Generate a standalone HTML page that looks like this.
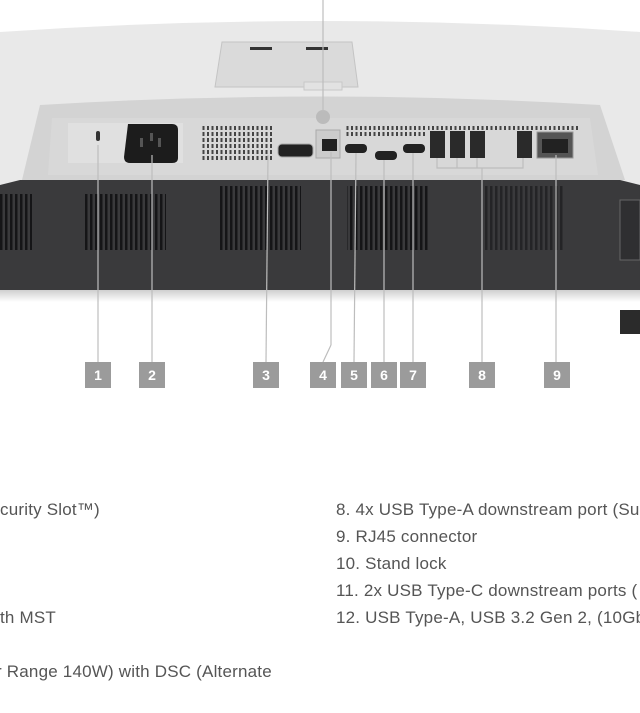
<!DOCTYPE html>
<html><head><meta charset="utf-8"><style>
html,body{margin:0;padding:0;background:#fff;}
body{width:640px;height:713px;overflow:hidden;position:relative;font-family:"Liberation Sans",sans-serif;}
.t{position:absolute;font-size:17px;color:#555;white-space:nowrap;line-height:20px;letter-spacing:0.2px;}
</style></head><body>
<svg width="640" height="713" viewBox="0 0 640 713" style="position:absolute;left:0;top:0">
<defs>
<pattern id="vd" width="5" height="10" patternUnits="userSpaceOnUse"><rect width="2.5" height="10" fill="#151517"/></pattern>
<pattern id="vl" width="4.5" height="6" patternUnits="userSpaceOnUse"><rect width="2" height="4" fill="#444"/></pattern>
<linearGradient id="bot" x1="0" y1="0" x2="0" y2="1"><stop offset="0" stop-color="#cfcfcf"/><stop offset="1" stop-color="#fff"/></linearGradient>
</defs>
<path d="M0,32 Q320,10 640,32 L640,185 L0,185 Z" fill="#e9e9e9"/>
<path d="M222,42 L352,42 L358,87 L215,87 Z" fill="#dadada" stroke="#c4c4c4"/>
<rect x="250" y="47" width="22" height="3" fill="#333"/><rect x="306" y="47" width="22" height="3" fill="#333"/>
<rect x="304" y="82" width="38" height="8" fill="#e2e2e2" stroke="#c8c8c8"/>
<path d="M40,105 Q320,88 600,105 L625,180 L22,180 Z" fill="#d3d3d3"/>
<path d="M52,118 L590,118 L598,175 L48,175 Z" fill="#d8d8d8"/>
<rect x="68" y="123" width="115" height="40" fill="#e0e0e0"/>
<rect x="96" y="131" width="4" height="10" rx="2" fill="#333"/>
<path d="M128,124 L172,124 Q178,124 178,130 L178,158 Q178,163 172,163 L130,163 Q124,163 124,157 Z" fill="#1c1c1c"/>
<rect x="140" y="138" width="3" height="9" fill="#555"/><rect x="158" y="138" width="3" height="9" fill="#555"/><rect x="150" y="133" width="3" height="8" fill="#555"/>
<rect x="200" y="124" width="72" height="38" fill="url(#vl)"/>
<rect x="345" y="124" width="80" height="14" fill="url(#vl)"/>
<rect x="428" y="124" width="150" height="6" fill="url(#vl)"/>
<circle cx="323" cy="117" r="7" fill="#bbb"/>
<rect x="278" y="144" width="35" height="13" rx="4" fill="#222" stroke="#aaa"/>
<rect x="316" y="130" width="24" height="28" fill="#ccc" stroke="#aaa"/>
<rect x="322" y="139" width="15" height="12" fill="#222"/>
<rect x="345" y="144" width="22" height="9" rx="4" fill="#222"/>
<rect x="375" y="151" width="22" height="9" rx="4" fill="#222"/>
<rect x="403" y="144" width="22" height="9" rx="4" fill="#222"/>
<rect x="430" y="131" width="15" height="27" fill="#2a2a2a"/>
<rect x="450" y="131" width="15" height="27" fill="#2a2a2a"/>
<rect x="470" y="131" width="15" height="27" fill="#2a2a2a"/>
<rect x="517" y="131" width="15" height="27" fill="#2a2a2a"/>
<rect x="537" y="132" width="36" height="26" fill="#555" stroke="#999"/>
<rect x="542" y="139" width="26" height="14" fill="#222"/>
<path d="M0,185 L20,180 L620,180 L640,185 L640,290 L0,290 Z" fill="#3a3a3c"/>
<rect x="0" y="194" width="32" height="56" fill="url(#vd)"/>
<rect x="84" y="194" width="82" height="56" fill="url(#vd)"/>
<rect x="219" y="186" width="82" height="64" fill="url(#vd)"/>
<rect x="347" y="186" width="82" height="64" fill="url(#vd)"/>
<rect x="483" y="186" width="82" height="64" fill="url(#vd)" opacity="0.6"/>
<rect x="620" y="200" width="20" height="60" fill="#2f2f31" stroke="#666"/>
<rect x="0" y="290" width="640" height="12" fill="url(#bot)"/>
<rect x="620" y="310" width="20" height="24" fill="#2b2b2b"/>
<g stroke="#bdbdbd" stroke-width="1.2" fill="none">
<line x1="323" y1="0" x2="323" y2="112"/>
<line x1="98" y1="145" x2="98" y2="362"/>
<line x1="152" y1="155" x2="152" y2="362"/>
<line x1="268" y1="155" x2="266" y2="362" />
<line x1="331" y1="152" x2="331" y2="345"/><line x1="331" y1="345" x2="323" y2="362"/>
<line x1="356" y1="153" x2="354" y2="362"/>
<line x1="384" y1="160" x2="384" y2="362"/>
<line x1="413" y1="153" x2="413" y2="362"/>
<path d="M437,158 L437,168 L523,168 L523,158 M457,158 L457,168 M477,158 L477,168"/>
<line x1="482" y1="168" x2="482" y2="362"/>
<line x1="556" y1="155" x2="556" y2="362"/>
</g>
<g fill="#9b9b9b">
<rect x="85" y="362" width="26" height="26"/><rect x="139" y="362" width="26" height="26"/>
<rect x="253" y="362" width="26" height="26"/><rect x="310" y="362" width="26" height="26"/>
<rect x="341" y="362" width="26" height="26"/><rect x="371" y="362" width="26" height="26"/>
<rect x="400" y="362" width="26" height="26"/><rect x="469" y="362" width="26" height="26"/>
<rect x="544" y="362" width="26" height="26"/>
</g>
<g fill="#fff" font-family="Liberation Sans, sans-serif" font-size="14" text-anchor="middle" font-weight="bold">
<text x="98" y="380">1</text><text x="152" y="380">2</text><text x="266" y="380">3</text>
<text x="323" y="380">4</text><text x="354" y="380">5</text><text x="384" y="380">6</text>
<text x="413" y="380">7</text><text x="482" y="380">8</text><text x="557" y="380">9</text>
</g>
</svg>
<div class="t" style="left:0;top:500px">curity Slot™)</div>
<div class="t" style="left:0;top:608px">th MST</div>
<div class="t" style="left:-4px;top:662px">r Range 140W) with DSC (Alternate</div>
<div class="t" style="left:336px;top:500px">8. 4x USB Type-A downstream port (Su</div>
<div class="t" style="left:336px;top:527px">9. RJ45 connector</div>
<div class="t" style="left:336px;top:554px">10. Stand lock</div>
<div class="t" style="left:336px;top:581px">11. 2x USB Type-C downstream ports (</div>
<div class="t" style="left:336px;top:608px">12. USB Type-A, USB 3.2 Gen 2, (10Gbp</div>
</body></html>
